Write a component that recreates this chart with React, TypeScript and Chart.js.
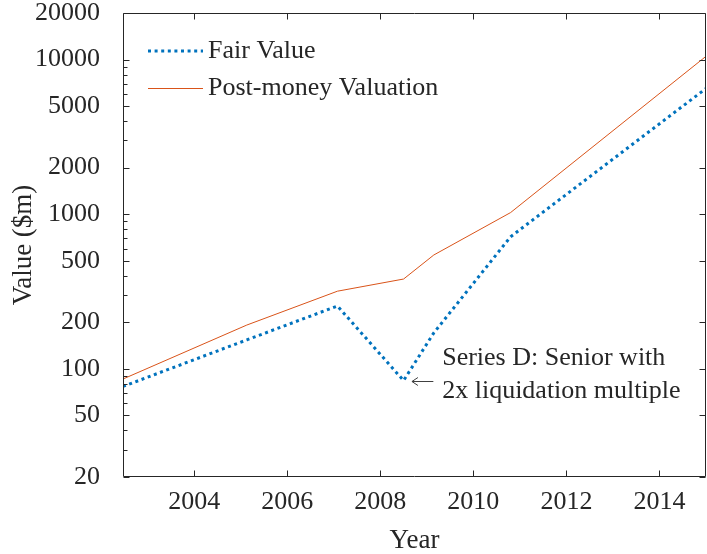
import React, { useEffect, useRef } from "react";
import { Chart, registerables } from "chart.js";

Chart.register(...registerables);

// ---- data ----
const years = [2002.47, 2005.13, 2007.08, 2008.5, 2009.15, 2010.8, 2015.0];
const fairValue = [77, 154, 255, 84, 171, 715, 6500];
const postMoney = [86, 192, 318, 381, 545, 1025, 10500];
const xTicks = [2004, 2006, 2008, 2010, 2012, 2014];
const yTicks = [20, 50, 100, 200, 500, 1000, 2000, 5000, 10000, 20000];
const seriesNames = ["Fair Value", "Post-money Valuation"];
const annotationLines = ["Series D: Senior with", "2x liquidation multiple"];
const arrowFrom = { x: 2009.14, y: 83.5 };
const arrowTo = { x: 2008.68, y: 83.5 };
const annotationAnchor = { x: 2009.33, y: 117 };

const X_MIN = 2002.47;
const X_MAX = 2015.0;
const Y_MIN = 20;
const Y_MAX = 20000;

const BLUE = "#0072BD";
const ORANGE = "#D95319";
const INK = "#262626";
const FONT = '"Liberation Serif", "Times New Roman", serif';
const FS = 26;

const decorPlugin = {
  id: "decor",
  afterDraw(chart: any) {
    const { ctx, chartArea: a, scales } = chart;
    const xs = scales.x;
    const ys = scales.y;
    ctx.save();
    ctx.strokeStyle = INK;
    ctx.lineWidth = 1;
    const L = Math.round(a.left) + 0.5;
    const R = Math.round(a.right) - 0.5;
    const T = Math.round(a.top) + 0.5;
    const B = Math.round(a.bottom) - 0.5;
    ctx.beginPath();
    ctx.rect(L, T, R - L, B - T);
    ctx.stroke();

    // x ticks (bottom & top, inward)
    ctx.beginPath();
    for (const t of xTicks) {
      const px = Math.round(xs.getPixelForValue(t)) + 0.5;
      ctx.moveTo(px, B);
      ctx.lineTo(px, B - 6);
      ctx.moveTo(px, T);
      ctx.lineTo(px, T + 6);
    }
    // y major ticks (left & right)
    for (const t of yTicks) {
      const py = Math.round(ys.getPixelForValue(t)) + 0.5;
      ctx.moveTo(L, py);
      ctx.lineTo(L + 6, py);
      ctx.moveTo(R, py);
      ctx.lineTo(R - 6, py);
    }
    // y minor ticks (left only)
    for (let dec = 10; dec < Y_MAX; dec *= 10) {
      for (let m = 2; m <= 9; m++) {
        const v = m * dec;
        if (v <= Y_MIN || v >= Y_MAX || yTicks.includes(v)) continue;
        const py = Math.round(ys.getPixelForValue(v)) + 0.5;
        ctx.moveTo(L, py);
        ctx.lineTo(L + 4, py);
      }
    }
    ctx.stroke();

    // legend
    const lx0 = 148, lx1 = 203, ly = [51, 88];
    ctx.lineWidth = 3;
    ctx.strokeStyle = BLUE;
    ctx.setLineDash([3, 3.6]);
    ctx.beginPath();
    ctx.moveTo(lx0, ly[0]);
    ctx.lineTo(lx1, ly[0]);
    ctx.stroke();
    ctx.setLineDash([]);
    ctx.lineWidth = 1;
    ctx.strokeStyle = ORANGE;
    ctx.beginPath();
    ctx.moveTo(lx0, ly[1] + 0.5);
    ctx.lineTo(lx1, ly[1] + 0.5);
    ctx.stroke();
    ctx.fillStyle = INK;
    ctx.font = `${FS}px ${FONT}`;
    ctx.textBaseline = "middle";
    ctx.textAlign = "left";
    ctx.fillText(seriesNames[0], 208, ly[0]);
    ctx.fillText(seriesNames[1], 208, ly[1]);

    // annotation
    const ax0 = xs.getPixelForValue(arrowFrom.x);
    const ax1 = xs.getPixelForValue(arrowTo.x);
    const ay = Math.round(ys.getPixelForValue(arrowTo.y)) + 0.5;
    ctx.strokeStyle = "#404040";
    ctx.lineWidth = 1;
    ctx.beginPath();
    ctx.moveTo(ax0, ay);
    ctx.lineTo(ax1, ay);
    ctx.moveTo(ax1 + 6, ay - 4);
    ctx.lineTo(ax1, ay);
    ctx.lineTo(ax1 + 6, ay + 4);
    ctx.stroke();
    const tx = xs.getPixelForValue(annotationAnchor.x);
    const ty = ys.getPixelForValue(annotationAnchor.y);
    ctx.font = `${FS}px ${FONT}`;
    annotationLines.forEach((s, i) => ctx.fillText(s, tx, ty + i * 33));
    ctx.restore();
  },
};

export default function App() {
  const ref = useRef<HTMLCanvasElement | null>(null);
  useEffect(() => {
    if (!ref.current) return;
    const chart = new Chart(ref.current, {
      type: "line",
      data: {
        datasets: [
          {
            label: seriesNames[0],
            data: years.map((x, i) => ({ x, y: fairValue[i] })),
            borderColor: BLUE,
            borderWidth: 3,
            borderDash: [3, 3.6],
            borderCapStyle: "butt",
            pointRadius: 0,
            tension: 0,
            fill: false,
          },
          {
            label: seriesNames[1],
            data: years.map((x, i) => ({ x, y: postMoney[i] })),
            borderColor: ORANGE,
            borderWidth: 1,
            pointRadius: 0,
            tension: 0,
            fill: false,
          },
        ],
      },
      options: {
        responsive: false,
        animation: false,
        layout: { padding: { top: 13, right: 1, left: 0, bottom: 0 } },
        plugins: { legend: { display: false }, tooltip: { enabled: false } },
        scales: {
          x: {
            type: "linear",
            min: X_MIN,
            max: X_MAX,
            grid: { display: false },
            border: { display: false },
            afterBuildTicks: (s: any) => {
              s.ticks = xTicks.map((v) => ({ value: v }));
            },
            afterFit: (s: any) => {
              s.height = 77;
              s.paddingLeft = 0;
              s.paddingRight = 0;
            },
            ticks: {
              autoSkip: false,
              maxRotation: 0,
              padding: 2,
              color: INK,
              font: { family: FONT, size: FS },
              callback: (v: any) => String(v),
            },
            title: {
              display: true,
              text: "Year",
              color: INK,
              font: { family: FONT, size: 27 },
              padding: { top: 0, bottom: -3 },
            },
          },
          y: {
            type: "logarithmic",
            min: Y_MIN,
            max: Y_MAX,
            grid: { display: false },
            border: { display: false },
            afterBuildTicks: (s: any) => {
              s.ticks = yTicks.map((v) => ({ value: v }));
            },
            afterFit: (s: any) => {
              s.width = 123;
              s.paddingTop = 0;
              s.paddingBottom = 0;
            },
            ticks: {
              autoSkip: false,
              padding: 15,
              color: INK,
              font: { family: FONT, size: FS },
              callback: (v: any) => String(v),
            },
            title: {
              display: true,
              text: "Value ($m)",
              color: INK,
              font: { family: FONT, size: 27 },
              padding: { top: 8, bottom: 0 },
            },
          },
        },
      },
      plugins: [decorPlugin],
    });
    return () => chart.destroy();
  }, []);
  return (
    <div style={{ position: "fixed", left: 0, top: 0, width: 707, height: 554, background: "#fff" }}>
      <canvas ref={ref} width={707} height={554} />
    </div>
  );
}
